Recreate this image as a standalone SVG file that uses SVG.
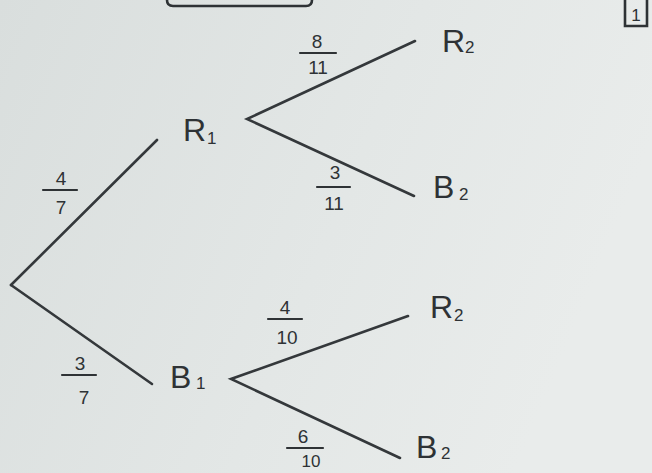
<svg xmlns="http://www.w3.org/2000/svg" width="652" height="473" viewBox="0 0 652 473">
<style>
.edge{stroke:#34383b;stroke-width:2.6;stroke-linecap:round;fill:none}
.lbl{font-family:"Liberation Sans",Arial,sans-serif;fill:#2e3235}
.big{font-size:32px}
.sub{font-size:17px}
.num{font-size:19px;text-anchor:middle}
.bar{stroke:#2e3235;stroke-width:2.2;stroke-linecap:round}
.box{stroke:#2e3235;stroke-width:2.6;fill:none}
</style>
<defs>
<linearGradient id="bg" x1="0" y1="0" x2="1" y2="0.3">
<stop offset="0" stop-color="#d9dedd"/>
<stop offset="0.6" stop-color="#e3e7e6"/>
<stop offset="1" stop-color="#e9eceb"/>
</linearGradient>
</defs>
<rect width="652" height="473" fill="url(#bg)"/>
<path class="box" d="M167,-10 L167,0 Q167,6 173,6 L306,6 Q312,6 312,0 L312,-10"/>
<g id="page-number">
<path class="box" d="M625,-4 L625,26 L647,26 L647,-4" stroke-width="2.2"/>
<text class="lbl" x="636" y="21" font-size="17" text-anchor="middle">1</text>
</g>
<g id="connectors">
<line class="edge" x1="11" y1="285" x2="157" y2="140"/>
<line class="edge" x1="11" y1="285" x2="152" y2="384"/>
<polyline class="edge" points="415,41 247,119 414,196"/>
<polyline class="edge" points="408,316 231,379 400,458"/>
<g id="p-R1">
<text class="lbl num" x="61" y="185">4</text>
<line class="bar" x1="43" y1="190" x2="77" y2="190"/>
<text class="lbl num" x="61" y="214">7</text>
</g>
<g id="p-B1">
<text class="lbl num" x="80" y="370">3</text>
<line class="bar" x1="62" y1="375" x2="96" y2="375"/>
<text class="lbl num" x="84" y="404">7</text>
</g>
<g id="p-R1R2">
<text class="lbl num" x="317" y="48">8</text>
<line class="bar" x1="300" y1="53" x2="336" y2="53"/>
<text class="lbl num" x="318" y="74">11</text>
</g>
<g id="p-R1B2">
<text class="lbl num" x="335" y="179">3</text>
<line class="bar" x1="317" y1="187" x2="350" y2="187"/>
<text class="lbl num" x="334" y="210">11</text>
</g>
<g id="p-B1R2">
<text class="lbl num" x="285" y="314">4</text>
<line class="bar" x1="268" y1="319" x2="302" y2="319"/>
<text class="lbl num" x="287" y="344">10</text>
</g>
<g id="p-B1B2">
<text class="lbl num" x="303" y="443">6</text>
<line class="bar" x1="287" y1="448" x2="323" y2="448"/>
<text class="lbl" x="311" y="467" font-size="17" text-anchor="middle">10</text>
</g>
</g>
<g id="node-R1">
<text class="lbl big" x="183" y="141">R</text>
<text class="lbl sub" x="207" y="144">1</text>
</g>
<g id="node-B1">
<text class="lbl big" x="170" y="388">B</text>
<text class="lbl sub" x="196" y="389">1</text>
</g>
<g id="node-R2a">
<text class="lbl big" x="442" y="52">R</text>
<text class="lbl sub" x="465" y="53">2</text>
</g>
<g id="node-B2a">
<text class="lbl big" x="433" y="198">B</text>
<text class="lbl sub" x="459" y="200">2</text>
</g>
<g id="node-R2b">
<text class="lbl big" x="430" y="318">R</text>
<text class="lbl sub" x="454" y="321">2</text>
</g>
<g id="node-B2b">
<text class="lbl big" x="416" y="458">B</text>
<text class="lbl sub" x="441" y="459">2</text>
</g>
</svg>
